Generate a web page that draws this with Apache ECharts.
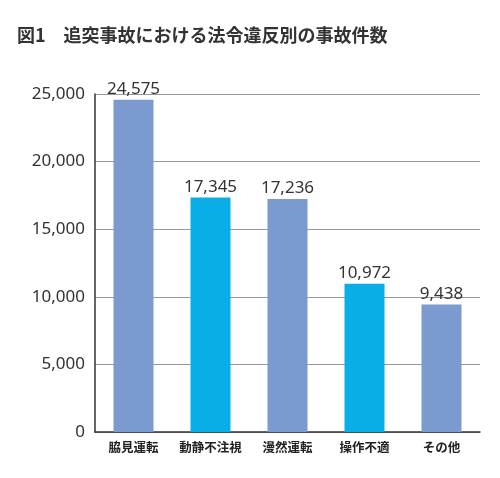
<!DOCTYPE html>
<html><head><meta charset="utf-8">
<script src="https://cdn.jsdelivr.net/npm/echarts@6/dist/echarts.min.js"></script>
<style>html,body{margin:0;padding:0;background:#fff}#c{width:500px;height:478px}</style>
</head><body><div id="c"></div>
<script>
const categories = ['脇見運転','動静不注視','漫然運転','操作不適','その他'];
const values = [24575, 17345, 17236, 10972, 9438];
const colors = ['#7b9ad0','#0aaee6','#7b9ad0','#0aaee6','#7b9ad0'];
const chart = echarts.init(document.getElementById('c'));
chart.setOption({
  animation:false,
  title:{text:'図1　追突事故における法令違反別の事故件数',left:12,top:21,
    textStyle:{fontFamily:'Noto Sans CJK JP',fontSize:18,fontWeight:'bold',color:'#333'}},
  grid:{left:95,right:20,top:94,bottom:46},
  xAxis:{type:'category',data:categories,axisTick:{show:false},
    axisLine:{lineStyle:{color:'#333',width:1.5}},
    axisLabel:{interval:0,fontFamily:'Noto Sans CJK JP',fontSize:12.5,fontWeight:'bold',color:'#222',margin:9}},
  yAxis:{type:'value',min:0,max:25000,interval:5000,
    axisLine:{show:true,lineStyle:{color:'#333',width:1.5}},
    splitLine:{lineStyle:{color:'#999',width:1}},
    axisLabel:{fontFamily:'Noto Sans',fontSize:17,color:'#333',margin:10,
      formatter:v=>v.toLocaleString('en-US')}},
  series:[{type:'bar',barWidth:40,
    data:values.map((v,i)=>({value:v,itemStyle:{color:colors[i]}})),
    label:{show:true,position:'top',distance:2,fontFamily:'Noto Sans',fontSize:17,color:'#333',
      formatter:p=>p.value.toLocaleString('en-US')}}]
});
</script></body></html>
